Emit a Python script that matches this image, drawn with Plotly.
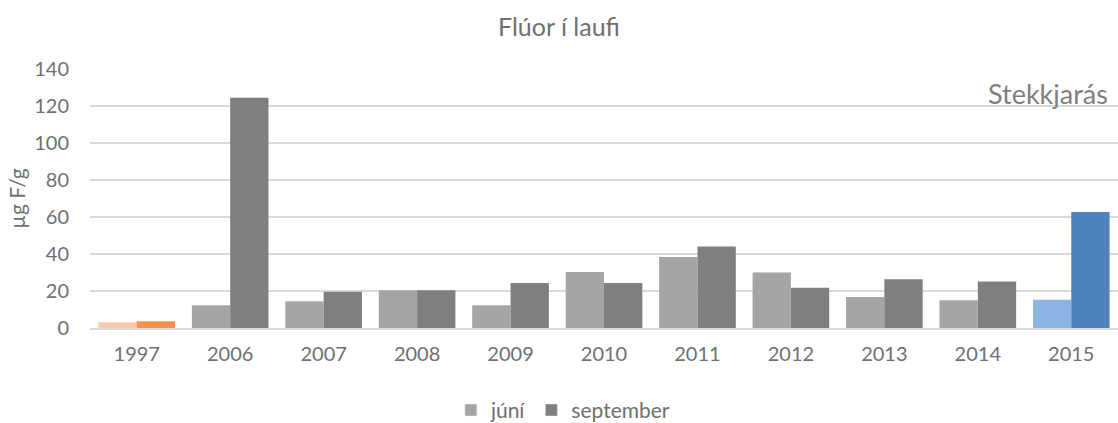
import plotly.graph_objects as go

years = ["1997", "2006", "2007", "2008", "2009", "2010", "2011", "2012", "2013", "2014", "2015"]
juni = [3.1, 12.3, 14.4, 20.4, 12.3, 30.3, 38.4, 30.0, 16.8, 15.0, 15.3]
september = [3.6, 124.5, 19.6, 20.4, 24.3, 24.3, 44.0, 21.8, 26.3, 25.2, 62.7]

# per-year colours: 1997 highlighted in orange, 2015 in blue, the rest gray
juni_colors = ["#F8CBAD"] + ["#A5A5A5"] * 9 + ["#8EB4E3"]
sept_colors = ["#F5914B"] + ["#7F7F7F"] * 9 + ["#4F81BD"]

font_family = "Lato, Carlito, 'Open Sans', sans-serif"
text_gray = "#707070"

fig = go.Figure()
fig.add_trace(go.Bar(x=years, y=juni, name="júní", marker=dict(color=juni_colors, line=dict(width=0)),
                     offsetgroup="j", showlegend=False))
fig.add_trace(go.Bar(x=years, y=september, name="september", marker=dict(color=sept_colors, line=dict(width=0)),
                     offsetgroup="s", showlegend=False))
# legend entries in the plain series colours
fig.add_trace(go.Bar(x=[years[0]], y=[None], name="júní", marker_color="#A5A5A5", offsetgroup="j"))
fig.add_trace(go.Bar(x=[years[0]], y=[None], name="september", marker_color="#7F7F7F", offsetgroup="s"))

fig.update_layout(
    width=1118, height=423,
    paper_bgcolor="white", plot_bgcolor="white",
    margin=dict(l=90, r=0, t=69, b=95, autoexpand=False),
    barmode="group", bargap=0.18, bargroupgap=0,
    font=dict(family=font_family, color=text_gray, size=20),
    title=dict(text="Flúor í laufi", x=0.5, xanchor="center", y=0.935, yanchor="middle",
               font=dict(size=25, color=text_gray)),
    xaxis=dict(type="category", showgrid=False, showline=True, linecolor="#D9D9D9", linewidth=2,
               ticks="", ticklabelstandoff=7, tickfont=dict(size=20, color=text_gray)),
    yaxis=dict(range=[0, 140], dtick=20, showgrid=True, gridcolor="#D9D9D9", gridwidth=1.5,
               zeroline=False, showline=False, ticks="", ticklabelstandoff=20,
               tickfont=dict(size=20, color=text_gray),
               title=dict(text="µg F/g", font=dict(size=21, color=text_gray), standoff=2)),
    legend=dict(orientation="h", x=0.46, xanchor="center", y=-0.318, yanchor="middle",
                font=dict(size=21, color=text_gray), itemwidth=30, traceorder="normal"),
    annotations=[dict(text="Stekkjarás", xref="paper", yref="paper", x=0.992, xanchor="right",
                      y=0.907, yanchor="middle", showarrow=False,
                      font=dict(size=27, color="#7F7F7F"))],
)

fig.write_html("out.html")
